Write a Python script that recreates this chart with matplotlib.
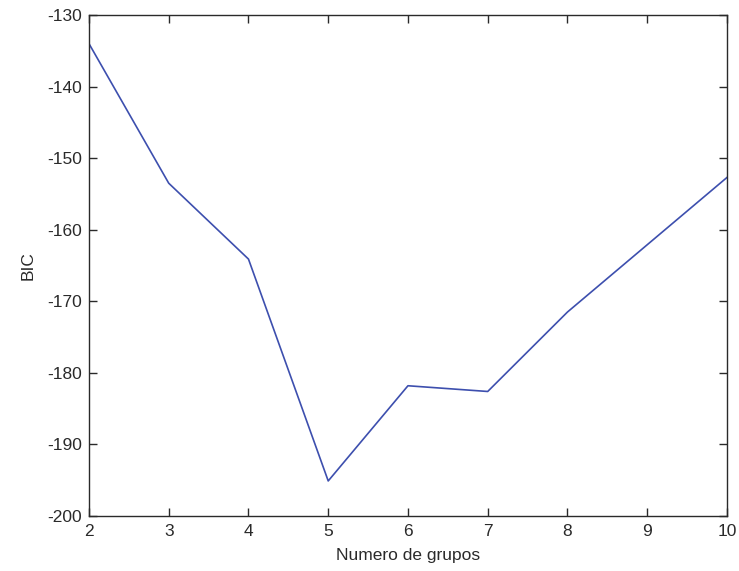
import matplotlib
matplotlib.use("Agg")
import matplotlib.pyplot as plt

# BIC for each number of clusters
grupos = [2, 3, 4, 5, 6, 7, 8, 9, 10]
bic = [-134.0, -153.5, -164.1, -195.1, -181.8, -182.6, -171.5, -162.1, -152.7]

plt.rcParams["font.family"] = ["Liberation Sans", "DejaVu Sans"]
plt.rcParams["axes.unicode_minus"] = False

fig = plt.figure(figsize=(7.39, 5.71), dpi=100)
ax = fig.add_axes([0.1204, 0.0963, 0.8633, 0.8774])

ax.plot(grupos, bic, color="#3d4fae", linewidth=1.2)

ax.set_xlim(2, 10)
ax.set_ylim(-200, -130)
ax.set_xticks(range(2, 11))
ax.set_yticks(range(-200, -129, 10))

ax.tick_params(direction="in", length=6, width=1, top=True, right=True,
               labelsize=12.5, colors="#2a2a2a")
ax.tick_params(axis="x", pad=6)
ax.tick_params(axis="y", pad=5)
for s in ax.spines.values():
    s.set_color("#2a2a2a")
    s.set_linewidth(1)

ax.set_xlabel("Numero de grupos", fontsize=12.5, color="#2a2a2a", labelpad=6)
ax.set_ylabel("BIC", fontsize=12.5, color="#2a2a2a", labelpad=8)

fig.savefig("out.png", dpi=100)
